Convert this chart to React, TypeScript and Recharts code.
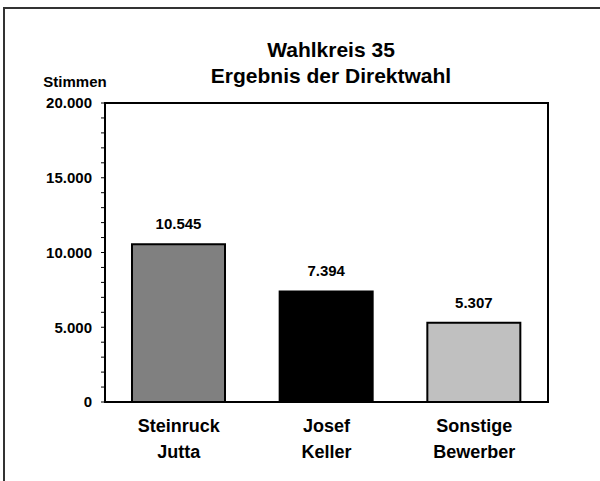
import React from 'react';
import { BarChart, Bar, XAxis, YAxis, Cell, LabelList, ReferenceArea } from 'recharts';

const firstLine = ['Steinruck', 'Josef', 'Sonstige'];
const secondLine = ['Jutta', 'Keller', 'Bewerber'];
const votes = [10545, 7394, 5307];
const barColors = ['#808080', '#000000', '#c0c0c0'];
const yTicks = [
  0, 1000, 2000, 3000, 4000, 5000, 6000, 7000, 8000, 9000, 10000,
  11000, 12000, 13000, 14000, 15000, 16000, 17000, 18000, 19000, 20000,
];
const labelledTicks = [0, 5000, 10000, 15000, 20000];

const data = firstLine.map((f, i) => ({
  name: `${f} ${secondLine[i]}`,
  votes: votes[i],
}));

const font = '"Liberation Sans", Arial, sans-serif';

const fmt = (n: number) => String(n).replace(/\B(?=(\d{3})+(?!\d))/g, '.');

const YTick = (props: any) => {
  const { x, y, payload } = props;
  if (!labelledTicks.includes(payload.value)) return null;
  return (
    <text x={x} y={y} dy="0.36em" textAnchor="end" fontFamily={font} fontWeight="bold" fontSize={15} fill="#000">
      {fmt(payload.value)}
    </text>
  );
};

const XTick = (props: any) => {
  const { x, y, index } = props;
  return (
    <g>
      <text x={x} y={y + 30} textAnchor="middle" fontFamily={font} fontWeight="bold" fontSize={18} fill="#000">
        {firstLine[index]}
      </text>
      <text x={x} y={y + 56} textAnchor="middle" fontFamily={font} fontWeight="bold" fontSize={18} fill="#000">
        {secondLine[index]}
      </text>
    </g>
  );
};

export default function App() {
  return (
    <div style={{ position: 'absolute', left: 0, top: 0, width: 600, height: 481, overflow: 'hidden', background: '#fff' }}>
      <BarChart
        width={600}
        height={481}
        data={data}
        margin={{ top: 103, right: 52, bottom: 19, left: 45 }}
      >
        {/* plot frame */}
        <ReferenceArea y1={0} y2={20000} fill="none" stroke="#000" strokeWidth={2} fillOpacity={0} />
        <XAxis
          dataKey="name"
          height={60}
          axisLine={{ stroke: '#000', strokeWidth: 2 }}
          tickLine={false}
          tickSize={0}
          tickMargin={0}
          tick={<XTick />}
          interval={0}
        />
        <YAxis
          width={60}
          domain={[0, 20000]}
          ticks={yTicks}
          interval={0}
          axisLine={{ stroke: '#000', strokeWidth: 2 }}
          tickLine={{ stroke: '#000', strokeWidth: 1 }}
          tickSize={4}
          tickMargin={9}
          tick={<YTick />}
        />
        <Bar dataKey="votes" barSize={93} stroke="#000" strokeWidth={2} isAnimationActive={false}>
          {data.map((d, i) => (
            <Cell key={d.name} fill={barColors[i]} />
          ))}
          <LabelList
            dataKey="votes"
            position="top"
            offset={15}
            formatter={(v: any) => fmt(Number(v))}
            style={{ fontFamily: font, fontWeight: 'bold', fontSize: 15, fill: '#000' }}
          />
        </Bar>
      </BarChart>
      <svg width={600} height={481} style={{ position: 'absolute', left: 0, top: 0, pointerEvents: 'none' }}>
        <rect x={4} y={8} width={640} height={520} fill="none" stroke="#333" strokeWidth={2} />
        <text x={331} y={57} textAnchor="middle" fontFamily={font} fontWeight="bold" fontSize={21} fill="#000">
          Wahlkreis 35
        </text>
        <text x={331} y={83} textAnchor="middle" fontFamily={font} fontWeight="bold" fontSize={21} fill="#000">
          Ergebnis der Direktwahl
        </text>
        <text x={75} y={87} textAnchor="middle" fontFamily={font} fontWeight="bold" fontSize={15} fill="#000">
          Stimmen
        </text>
      </svg>
    </div>
  );
}
